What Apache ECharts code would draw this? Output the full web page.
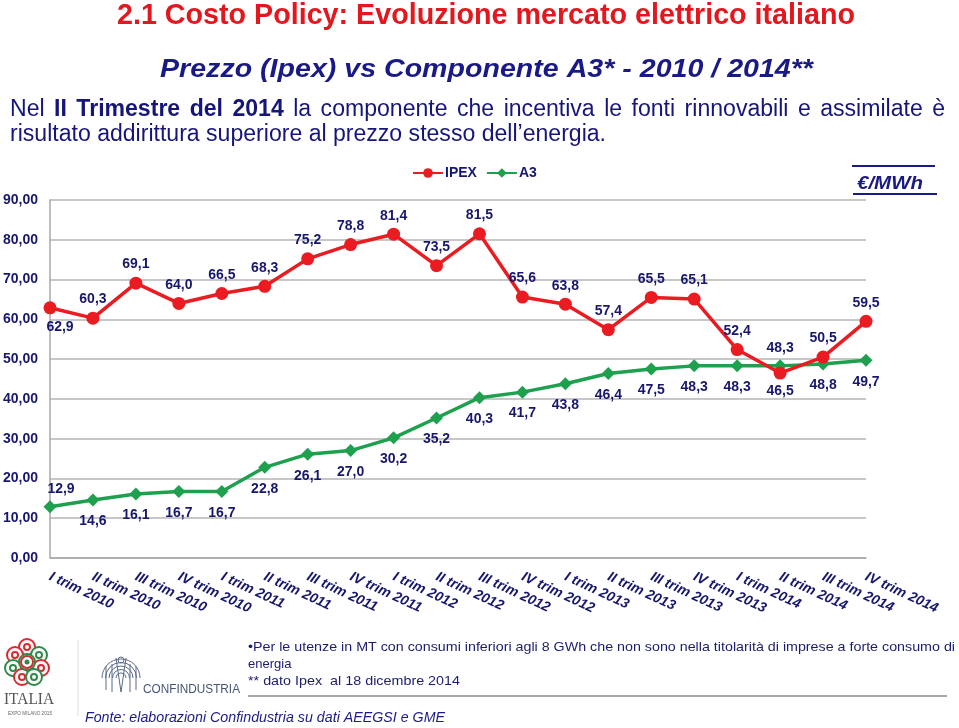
<!DOCTYPE html>
<html><head><meta charset="utf-8">
<script src="https://cdn.jsdelivr.net/npm/echarts@6/dist/echarts.min.js"></script>
<style>html,body{margin:0;padding:0;background:#fff}#c{width:959px;height:728px}</style>
</head><body><div id="c"></div>
<script>
const categories = ['I trim 2010','II trim 2010','III trim 2010','IV trim 2010','I trim 2011','II trim 2011','III trim 2011','IV trim 2011','I trim 2012','II trim 2012','III trim 2012','IV trim 2012','I trim 2013','II trim 2013','III trim 2013','IV trim 2013','I trim 2014','II trim 2014','III trim 2014','IV trim 2014'];
const ipex = [62.9,60.3,69.1,64.0,66.5,68.3,75.2,78.8,81.4,73.5,81.5,65.6,63.8,57.4,65.5,65.1,52.4,46.5,50.5,59.5];
const a3 = [12.9,14.6,16.1,16.7,16.7,22.8,26.1,27.0,30.2,35.2,40.3,41.7,43.8,46.4,47.5,48.3,48.3,48.3,48.8,49.7];
const yTicks = {min:0, max:90, interval:10};

const NAVY = '#17176e';
const RED = '#ea1c22';
const GREEN = '#1ea04e';
const fmt1 = v => v.toFixed(1).replace('.', ',');

const ctx = document.createElement('canvas').getContext('2d');
function measure(str, font){ ctx.font = font; return ctx.measureText(str).width; }
function tEl(str, x, y, font, fill, s){
  return {type:'text', x:x, y:y, scaleX:s, z:10,
    style:{text:str, font:font, fill:fill, align:'left', verticalAlign:'middle', textAlign:'left', textVerticalAlign:'middle'}};
}
function txt(str, x, y, font, fill, targetW){
  const w = measure(str, font);
  return tEl(str, x, y, font, fill, targetW ? targetW / w : 1);
}

const FF = '"Liberation Sans", Arial, sans-serif';
const graphics = [];
graphics.push(txt('2.1 Costo Policy: Evoluzione mercato elettrico italiano', 117, 16, 'bold 29px ' + FF, '#e3171d', 738));
graphics.push(txt('Prezzo (Ipex) vs Componente A3* - 2010 / 2014**', 160, 70, 'italic bold 25px ' + FF, '#1a1a86', 653));

// paragraph: line 2 natural, line 1 justified
const pReg = '23px ' + FF, pBold = 'bold 23px ' + FF;
const line2 = 'risultato addirittura superiore al prezzo stesso dell\u2019energia.';
const ps = 596 / measure(line2, pReg);
graphics.push(tEl(line2, 10, 135, pReg, '#15157a', ps));
const words1 = [];
'Nel'.split(' ').forEach(w => words1.push([w, pReg]));
'II Trimestre del 2014'.split(' ').forEach(w => words1.push([w, pBold]));
'la componente che incentiva le fonti rinnovabili e assimilate è'.split(' ').forEach(w => words1.push([w, pReg]));
let wsum = 0; words1.forEach(w => wsum += measure(w[0], w[1]) * ps);
const gap = (935 - wsum) / (words1.length - 1);
let cx = 10;
words1.forEach(w => { graphics.push(tEl(w[0], cx, 110, w[1], '#15157a', ps)); cx += measure(w[0], w[1]) * ps + gap; });

// unit
graphics.push(txt('€/MWh', 857, 184, 'italic bold 18px ' + FF, '#1a1a86', 66));
graphics.push({type:'line', shape:{x1:852,y1:166,x2:935,y2:166}, style:{stroke:'#1a1a86', lineWidth:2}});
graphics.push({type:'line', shape:{x1:853,y1:194,x2:937,y2:194}, style:{stroke:'#1a1a86', lineWidth:2}});

// footnotes
const fReg = '13px ' + FF;
graphics.push(txt('\u2022Per le utenze in MT con consumi inferiori agli 8 GWh che non sono nella titolarità di imprese a forte consumo di', 248, 647, fReg, '#1c1c72', 707));
graphics.push(txt('energia', 248, 664, fReg, '#1c1c72'));
graphics.push(txt('** dato Ipex  al 18 dicembre 2014', 248, 681, fReg, '#1c1c72', 212));
graphics.push({type:'line', shape:{x1:248,y1:696,x2:947,y2:696}, style:{stroke:'#8a8a8a', lineWidth:1.5}});
graphics.push(txt('Fonte: elaborazioni Confindustria su dati AEEGSI e GME', 85, 718, 'italic 14px ' + FF, '#1c1c86', 360));
graphics.push({type:'line', shape:{x1:78,y1:640,x2:78,y2:716}, style:{stroke:'#dddddd', lineWidth:1}});

// Expo logo (approximation: clusters of concentric rings)
const lg = {type:'group', children:[]};
const blobs = [[27,647,'#d62b32'],[15,655,'#d62b32'],[39,655,'#2f8a4a'],[13,668,'#2f8a4a'],[41,668,'#d62b32'],[22,677,'#d62b32'],[34,677,'#2f8a4a'],[27,662,'#2f8a4a']];
blobs.forEach(b => {
  [8,5.5,3].forEach((r, k) => lg.children.push({type:'circle', shape:{cx:b[0], cy:b[1], r:r},
    style:{fill: k === 0 ? '#ffffff' : 'none', stroke: k === 1 ? '#f0f0f0' : b[2], lineWidth: k === 1 ? 1 : 2}}));
});
lg.children.push({type:'circle', shape:{cx:27, cy:662, r:6}, style:{fill:'#ffffff', stroke:'#d62b32', lineWidth:2}});
lg.children.push({type:'circle', shape:{cx:27, cy:662, r:2.5}, style:{fill:'#2f8a4a'}});
graphics.push(lg);
graphics.push(txt('ITALIA', 4, 700, '17px "Liberation Serif", "DejaVu Serif", serif', '#555555', 50));
graphics.push(txt('EXPO MILANO 2015', 8, 713, '6px ' + FF, '#666666', 44));
// Confindustria logo (approximation)
const cf = {type:'group', children:[]};
for (let i = 0; i < 5; i++) {
  cf.children.push({type:'arc', shape:{cx:121, cy:678, r:5 + i*3.5, startAngle:Math.PI, endAngle:2*Math.PI}, style:{fill:'none', stroke:'#5b6a8a', lineWidth:1}});
}
[[106,666,106,690],[112,664,112,692],[130,664,130,692],[136,666,136,690],[116,658,121,692],[126,658,121,692]].forEach(l =>
  cf.children.push({type:'line', shape:{x1:l[0],y1:l[1],x2:l[2],y2:l[3]}, style:{stroke:'#5b6a8a', lineWidth:1}}));
cf.children.push({type:'circle', shape:{cx:121, cy:660, r:3}, style:{fill:'none', stroke:'#5b6a8a', lineWidth:1}});
graphics.push(cf);
graphics.push(txt('CONFINDUSTRIA', 143, 689, '13px ' + FF, '#45557a', 97));

// labels
const ipexData = ipex.map((v, i) => {
  const d = {value: v};
  if (i === 0) d.label = {position:'bottom', distance:6, offset:[10,0]};
  if (i === 17) d.label = {position:'bottom', distance:5};
  return d;
});
const a3Data = a3.map((v, i) => {
  const d = {value: v};
  if (i === 0) d.label = {position:'top', distance:4, offset:[11,0]};
  if (i === 17) d.label = {position:'top', distance:4};
  return d;
});
const labelStyle = {show:true, color:NAVY, fontFamily:FF, fontWeight:'bold', fontSize:14, formatter: p => fmt1(p.value)};

const chart = echarts.init(document.getElementById('c'), null, {renderer:'canvas'});
chart.setOption({
  backgroundColor:'#ffffff',
  animation:false,
  textStyle:{fontFamily:FF},
  legend:{left:412, top:166, padding:0, itemWidth:30, itemHeight:12, itemGap:9,
    textStyle:{color:NAVY, fontWeight:'bold', fontSize:14, fontFamily:FF, padding:[0,0,0,-3]},
    data:['IPEX','A3']},
  grid:{left:50, right:93, top:200, bottom:170, containLabel:false, outerBoundsMode:'none'},
  xAxis:{type:'category', data:categories, boundaryGap:false,
    axisLine:{lineStyle:{color:'#a8a8a8', width:1.5}},
    axisTick:{show:false},
    axisLabel:{rotate:-25, margin:18, color:NAVY, fontWeight:'bold', fontStyle:'italic', fontSize:14, fontFamily:FF, interval:0}},
  yAxis:{type:'value', min:yTicks.min, max:yTicks.max, interval:yTicks.interval,
    axisLine:{show:true, lineStyle:{color:'#a8a8a8', width:1.5}},
    axisTick:{show:false},
    splitLine:{lineStyle:{color:'#b4b4b4', width:1.5}},
    axisLabel:{margin:12, color:NAVY, fontWeight:'bold', fontSize:14, fontFamily:FF, formatter: v => v.toFixed(2).replace('.', ',')}},
  series:[
    {name:'IPEX', type:'line', data:ipexData, symbol:'circle', symbolSize:13,
      lineStyle:{color:RED, width:3.5}, itemStyle:{color:RED},
      label:Object.assign({position:'top', distance:5}, labelStyle), z:3},
    {name:'A3', type:'line', data:a3Data, symbol:'diamond', symbolSize:13,
      lineStyle:{color:GREEN, width:3.5}, itemStyle:{color:GREEN},
      label:Object.assign({position:'bottom', distance:8}, labelStyle), z:2}
  ],
  graphic:graphics
});
</script></body></html>
